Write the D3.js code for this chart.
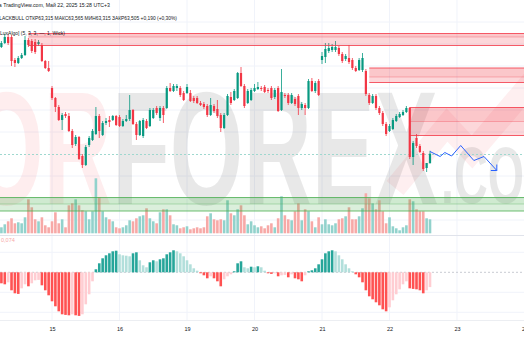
<!DOCTYPE html>
<html>
<head>
<meta charset="utf-8">
<script src="https://cdn.jsdelivr.net/npm/d3@7"></script>
<style>
  body { margin: 0; background: #fff; }
  svg { display: block; }
  text { font-family: "Liberation Sans", Arial, sans-serif; }
</style>
</head>
<body>
<svg id="chart" width="524" height="350"></svg>
<script>
// hourly bars, 14 May (part) .. 22 May 15:00
const open = [
  65.64,65.72,65.84,65.84,65.38,65.32,65.42,65.48,65.78,65.76,
  65.74,65.70,65.68,65.36,65.22,64.82,64.62,64.44,64.18,64.30,
  64.26,63.96,63.70,63.84,63.46,63.28,63.68,63.78,63.90,64.26,
  63.88,64.12,64.18,64.18,64.26,64.24,64.06,64.16,64.20,64.38,
  64.10,63.88,63.86,64.16,64.06,64.22,64.42,64.22,64.42,64.42,
  64.82,64.76,64.82,64.82,64.72,64.72,64.72,64.62,64.62,64.52,
  64.50,64.46,64.28,64.46,64.40,64.28,64.02,64.28,64.64,64.58,
  64.62,65.12,64.86,64.52,64.58,64.76,64.80,64.82,64.84,64.78,
  64.82,64.64,64.82,64.38,64.68,64.68,64.52,64.60,64.66,64.42,
  64.48,64.42,64.96,64.76,64.96,65.38,65.44,65.56,65.58,65.58,
  65.62,65.50,65.40,65.42,65.38,65.22,65.18,65.18,65.16,64.68,
  64.52,64.66,64.42,64.32,64.10,63.96,64.00,64.16,64.24,64.28,
  64.34,64.42,63.44,63.82,63.66,63.52,63.22,63.315
];
const high = [
  65.76,65.90,65.90,65.88,65.42,65.46,65.52,65.86,65.82,65.80,
  65.80,65.78,65.72,65.38,65.36,64.86,64.64,64.48,64.32,64.34,
  64.32,64.00,63.88,63.86,63.50,63.68,63.86,64.00,64.44,64.30,
  64.16,64.22,64.26,64.28,64.28,64.28,64.20,64.28,64.68,64.40,
  64.14,64.18,64.22,64.20,64.42,64.42,64.46,64.46,64.46,64.86,
  64.92,64.90,64.90,64.86,64.76,64.90,64.78,64.66,64.66,64.56,
  64.54,64.50,64.62,64.50,64.58,64.32,64.32,64.70,64.74,64.80,
  65.14,65.24,64.90,64.80,64.82,64.90,64.94,64.86,64.88,64.82,
  64.86,64.82,64.86,65.20,64.72,64.72,64.72,64.64,64.70,64.54,
  64.52,65.00,65.02,64.96,65.00,65.54,65.72,65.72,65.70,65.76,
  65.66,65.54,65.50,65.68,65.42,65.26,65.42,65.52,65.20,64.72,
  64.70,64.70,64.46,64.36,64.14,64.10,64.22,64.30,64.34,64.38,
  64.46,64.44,63.76,63.90,63.70,63.56,63.32,63.565
];
const low = [
  65.62,65.70,65.68,65.26,65.24,65.30,65.40,65.46,65.64,65.52,
  65.50,65.66,65.34,65.20,65.14,64.58,64.34,64.16,63.98,64.22,
  63.94,63.62,63.66,63.38,63.22,63.26,63.64,63.76,63.88,63.82,
  63.86,64.08,64.04,64.16,64.06,64.04,64.04,64.14,64.16,64.08,
  63.78,63.86,63.82,64.00,64.04,64.20,64.28,64.16,64.12,64.40,
  64.74,64.74,64.76,64.64,64.56,64.70,64.54,64.52,64.50,64.46,
  64.40,64.24,64.26,64.32,64.22,63.94,64.00,64.26,64.48,64.56,
  64.60,64.84,64.42,64.50,64.56,64.74,64.78,64.76,64.72,64.72,
  64.58,64.60,64.34,64.36,64.62,64.48,64.50,64.46,64.28,64.38,
  64.28,64.40,64.74,64.72,64.66,65.30,65.32,65.52,65.54,65.54,
  65.46,65.32,65.36,65.30,65.18,65.14,65.16,65.14,64.66,64.48,
  64.50,64.38,64.28,64.06,63.86,63.94,63.98,64.14,64.22,64.26,
  64.32,63.40,63.28,63.62,63.52,63.16,63.14,63.315
];
const close = [
  65.72,65.84,65.72,65.36,65.32,65.42,65.48,65.78,65.68,65.56,
  65.54,65.74,65.36,65.22,65.16,64.62,64.44,64.18,64.28,64.26,
  63.96,63.68,63.84,63.40,63.28,63.64,63.82,63.96,64.26,63.96,
  64.12,64.16,64.14,64.26,64.08,64.06,64.16,64.20,64.38,64.10,
  63.88,64.16,64.18,64.02,64.38,64.38,64.32,64.42,64.28,64.82,
  64.76,64.86,64.86,64.68,64.58,64.84,64.56,64.56,64.52,64.48,
  64.44,64.28,64.48,64.36,64.26,64.02,64.28,64.66,64.52,64.76,
  65.12,64.86,64.46,64.76,64.78,64.82,64.84,64.80,64.74,64.76,
  64.62,64.78,64.36,64.74,64.66,64.52,64.68,64.50,64.42,64.50,
  64.42,64.96,64.76,64.92,64.68,65.46,65.60,65.62,65.64,65.64,
  65.50,65.36,65.46,65.34,65.22,65.16,65.38,65.42,64.70,64.52,
  64.66,64.42,64.32,64.10,63.90,64.06,64.18,64.26,64.30,64.34,
  64.42,63.44,63.72,63.66,63.54,63.20,63.32,63.505
];
const volume = [
  600,900,1200,1500,1000,1100,1000,1600,3400,2600,
  1400,1200,1600,800,600,1200,2100,1000,1400,600,
  2800,3000,3400,2800,2300,2200,1400,2200,5500,3600,
  2200,1600,1400,1200,600,500,600,800,1300,1200,
  1500,1700,1800,2500,1500,1200,1000,2100,2400,2400,
  1800,900,800,500,600,700,400,500,600,500,
  600,1700,2000,1400,1300,1400,1300,3300,2000,1800,
  2400,2800,1800,900,1200,800,600,700,500,800,
  1000,600,1500,3700,1800,1400,1300,2200,3000,1300,
  2400,2200,1200,600,1600,900,1400,900,800,1000,
  1400,1500,1700,2600,1400,1400,1700,2500,4000,3500,
  3000,2400,3300,2200,1000,1600,700,500,300,600,
  800,3400,3200,2400,2200,2200,1500,1400
];
const osc = [
  -0.055,-0.060,-0.050,-0.090,-0.105,-0.108,-0.080,-0.060,-0.070,-0.055,
  -0.040,-0.038,-0.065,-0.090,-0.115,-0.145,-0.170,-0.195,-0.210,-0.213,
  -0.215,-0.210,-0.215,-0.218,-0.210,-0.160,-0.110,-0.045,0.015,0.045,
  0.070,0.085,0.095,0.105,0.108,0.090,0.085,0.083,0.080,0.095,
  0.100,0.060,0.035,0.025,0.050,0.060,0.055,0.065,0.070,0.090,
  0.100,0.110,0.105,0.095,0.080,0.060,0.040,0.020,0.008,-0.005,
  -0.015,-0.030,-0.020,-0.030,-0.045,-0.070,-0.035,-0.020,-0.010,0.005,
  0.045,0.055,0.025,0.020,0.028,0.025,0.030,0.025,0.008,-0.005,
  -0.008,-0.005,-0.020,-0.015,-0.013,-0.025,-0.010,-0.030,-0.035,-0.045,
  -0.015,0.005,0.010,0.020,0.040,0.065,0.095,0.105,0.110,0.105,
  0.085,0.065,0.040,0.020,0.005,-0.010,-0.025,-0.050,-0.090,-0.120,
  -0.135,-0.150,-0.165,-0.185,-0.195,-0.175,-0.140,-0.110,-0.085,-0.060,
  -0.045,-0.080,-0.083,-0.085,-0.090,-0.105,-0.090,-0.074
];

// time axis: bar index where each day starts
const dayLabels = ['15', '16', '19', '20', '21', '22', '23', '26'];
const dayStart = [15, 35, 55, 75, 95, 115, 135, 155];

// supply / demand zones: [start bar, top, mid, bottom]
const supplyZones = [
  [8, 65.91, 65.84, 65.67],
  [109, 65.22, 65.04, 64.93],
  [121, 64.43, 64.15, 63.87]
];
const demandZone = [-2, 62.63, 62.50, 62.36];

// hand-drawn forecast
const fcBar = [127, 130, 131.4, 133.4, 136.1, 140, 143, 146.8];
const fcPrice = [63.55, 63.45, 63.53, 63.46, 63.67, 63.37, 63.45, 63.17];

const gridPrices = [66.14, 65.70, 65.26, 64.82, 64.38, 63.94, 63.06, 62.62, 62.18];
const oscGrid = [0.1, -0.1, -0.2];
const lastPrice = 63.505;

const width = 524, height = 350;
const svg = d3.select('#chart');

const x = d3.scaleLinear().domain([0, 127]).range([1.4, 430]);
const y = d3.scaleLinear().domain([63, 66.58]).range([179, 0]);
const yVol = d3.scaleLinear().domain([0, 5500]).range([233.3, 178.3]);
const yOsc = d3.scaleLinear().domain([-0.22, 0.11]).range([316.3, 250.3]);

const bars = d3.range(open.length).map(i => ({
  i, o: open[i], h: high[i], l: low[i], c: close[i], v: volume[i], s: osc[i]
}));

const UP = '#089981', DOWN = '#f23645';

// grid
const grid = svg.append('g').attr('stroke', '#f0f3fa').attr('stroke-width', 1);
grid.selectAll('.vg').data(dayStart).join('line')
  .attr('x1', d => x(d)).attr('x2', d => x(d))
  .attr('y1', 0).attr('y2', 320);
grid.selectAll('.hg').data(gridPrices).join('line')
  .attr('x1', 0).attr('x2', width)
  .attr('y1', d => y(d)).attr('y2', d => y(d));
grid.selectAll('.og').data(oscGrid).join('line')
  .attr('x1', 0).attr('x2', width)
  .attr('y1', d => yOsc(d)).attr('y2', d => yOsc(d));

// pane borders
svg.append('line').attr('x1', 0).attr('x2', width).attr('y1', 235.5).attr('y2', 235.5)
  .attr('stroke', '#e0e3eb');
svg.append('line').attr('x1', 0).attr('x2', width).attr('y1', 320.5).attr('y2', 320.5)
  .attr('stroke', '#eceef2');

// watermark
const wm = svg.append('g').style('font-family', '"DejaVu Sans Condensed", "DejaVu Sans", sans-serif')
  .style('font-weight', 'bold');
wm.append('path')
  .attr('d', 'M395,188 L447,125 L472,152 L540,72')
  .attr('fill', 'none')
  .attr('stroke', 'rgba(242,54,69,0.08)')
  .attr('stroke-width', 22);
const wmText = wm.append('text')
  .attr('x', -30).attr('y', 204)
  .attr('font-size', 162)
  .attr('textLength', 468)
  .attr('lengthAdjust', 'spacingAndGlyphs');
wmText.append('tspan').attr('fill', 'rgba(242,54,69,0.09)').text('OR');
wmText.append('tspan').attr('fill', 'rgba(0,0,0,0.09)').text('FOREX');
wm.append('text')
  .attr('x', 441).attr('y', 203)
  .attr('font-size', 80)
  .attr('textLength', 122)
  .attr('lengthAdjust', 'spacingAndGlyphs')
  .attr('fill', 'rgba(0,0,0,0.09)')
  .text('.COM');

// volume
svg.append('g').selectAll('rect').data(bars).join('rect')
  .attr('x', d => x(d.i) - 1.3)
  .attr('width', 2.6)
  .attr('y', d => yVol(d.v))
  .attr('height', d => yVol(0) - yVol(d.v))
  .attr('fill', d => d.c >= d.o ? '#92d2cc' : '#f7a9a7');

// price line
const py = Math.round(y(lastPrice)) + 0.5;
svg.append('line')
  .attr('x1', 0).attr('x2', width)
  .attr('y1', py).attr('y2', py)
  .attr('stroke', '#9fd8cf')
  .attr('stroke-dasharray', '2,2');

// candles
const candle = svg.append('g').selectAll('g').data(bars).join('g')
  .attr('fill', d => d.c >= d.o ? UP : DOWN)
  .attr('stroke', d => d.c >= d.o ? UP : DOWN);
candle.append('line')
  .attr('x1', d => x(d.i)).attr('x2', d => x(d.i))
  .attr('y1', d => y(d.h)).attr('y2', d => y(d.l))
  .attr('stroke-width', 0.8);
candle.append('rect')
  .attr('stroke', 'none')
  .attr('x', d => x(d.i) - 1.1)
  .attr('width', 2.2)
  .attr('y', d => y(Math.max(d.o, d.c)))
  .attr('height', d => Math.max(1, Math.abs(y(d.o) - y(d.c))));

// zones (drawn over the series)
const zones = svg.append('g');
supplyZones.forEach(z => {
  const x0 = x(z[0]);
  zones.append('rect').attr('x', x0).attr('width', width - x0)
    .attr('y', y(z[1])).attr('height', y(z[3]) - y(z[1]))
    .attr('fill', 'rgba(242,54,69,0.2)');
  zones.append('rect').attr('x', x0).attr('width', width - x0)
    .attr('y', y(z[1])).attr('height', y(z[2]) - y(z[1]))
    .attr('fill', 'rgba(242,54,69,0.1)');
  [[z[1], 0.8], [z[2], 0.3], [z[3], 0.8]].forEach(([p, a]) => {
    zones.append('line').attr('x1', x0).attr('x2', width)
      .attr('y1', y(p)).attr('y2', y(p))
      .attr('stroke', `rgba(242,54,69,${a})`);
  });
});
{
  const z = demandZone, x0 = x(z[0]);
  zones.append('rect').attr('x', x0).attr('width', width - x0)
    .attr('y', y(z[1])).attr('height', y(z[3]) - y(z[1]))
    .attr('fill', 'rgba(76,175,80,0.2)');
  zones.append('rect').attr('x', x0).attr('width', width - x0)
    .attr('y', y(z[1])).attr('height', y(z[2]) - y(z[1]))
    .attr('fill', 'rgba(76,175,80,0.08)');
  [[z[1], 0.8], [z[2], 0.35], [z[3], 0.8]].forEach(([p, a]) => {
    zones.append('line').attr('x1', x0).attr('x2', width)
      .attr('y1', y(p)).attr('y2', y(p))
      .attr('stroke', `rgba(76,175,80,${a})`);
  });
}

// forecast path
const fc = fcBar.map((b, i) => [x(b), y(fcPrice[i])]);
svg.append('path')
  .attr('d', d3.line()(fc))
  .attr('fill', 'none').attr('stroke', '#2962ff').attr('stroke-width', 1);
const tip = fc[fc.length - 1];
svg.append('path')
  .attr('d', `M${tip[0] - 6},${tip[1]} L${tip[0]},${tip[1]} L${tip[0]},${tip[1] - 6}`)
  .attr('fill', 'none').attr('stroke', '#2962ff').attr('stroke-width', 1);

// oscillator
svg.append('line')
  .attr('x1', 0).attr('x2', width)
  .attr('y1', yOsc(0)).attr('y2', yOsc(0))
  .attr('stroke', '#c8cbd3').attr('stroke-dasharray', '2,2');
svg.append('g').selectAll('rect').data(bars).join('rect')
  .attr('x', d => x(d.i) - 1.3)
  .attr('width', 2.6)
  .attr('y', d => yOsc(Math.max(0, d.s)))
  .attr('height', d => Math.abs(yOsc(d.s) - yOsc(0)))
  .attr('fill', d => {
    const prev = d.i > 0 ? osc[d.i - 1] : 0;
    if (d.s >= 0) return d.s >= prev ? '#26a69a' : '#b2dfdb';
    return d.s < prev ? '#ff5252' : '#ffcdd2';
  });
svg.append('text').attr('x', 1).attr('y', 242)
  .attr('font-size', 5.5).attr('fill', '#f7a9a7')
  .text('0,074');

// time axis
const axis = svg.append('g').attr('transform', 'translate(0,320)')
  .call(d3.axisBottom(x).tickValues(dayStart).tickFormat((d, i) => dayLabels[i]).tickSize(0).tickPadding(7));
axis.select('.domain').remove();
axis.selectAll('text').attr('font-size', 5.5).attr('fill', '#131722')
  .style('font-family', '"Liberation Sans", Arial, sans-serif');

// header
svg.append('text').attr('x', -4).attr('y', 6.5)
  .attr('font-size', 5.4).attr('fill', '#131722')
  .attr('textLength', 114).attr('lengthAdjust', 'spacingAndGlyphs')
  .text('на TradingView.com, Май 22, 2025 15:28 UTC+3');
svg.append('text').attr('x', -4).attr('y', 20)
  .attr('font-size', 5.4).attr('fill', '#131722')
  .attr('textLength', 181).attr('lengthAdjust', 'spacingAndGlyphs')
  .text('BLACKBULL  ОТКР63,315  МАКС63,565  МИН63,315  ЗАКР63,505  +0,190 (+0,30%)');
svg.append('text').attr('x', 0).attr('y', 34.5)
  .attr('font-size', 5.4).attr('fill', '#131722')
  .attr('textLength', 65).attr('lengthAdjust', 'spacingAndGlyphs')
  .text('LuxAlgo] (5, 3, 3, —, 1, Wick)');
</script>
</body>
</html>
